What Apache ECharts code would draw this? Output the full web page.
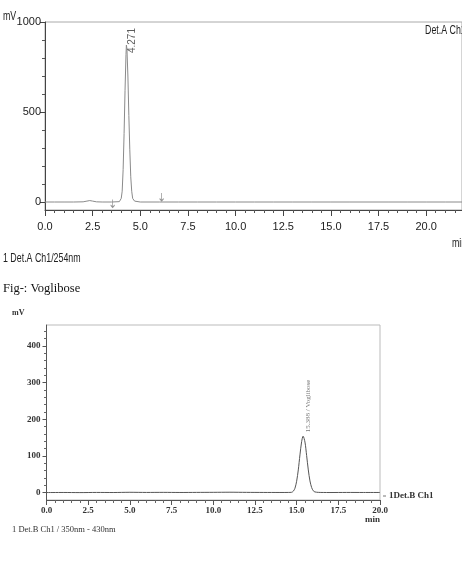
<!DOCTYPE html>
<html><head><meta charset="utf-8">
<script src="https://cdn.jsdelivr.net/npm/echarts@6/dist/echarts.min.js"></script>
<style>html,body{margin:0;padding:0;background:#fff}#c{width:462px;height:567px}</style>
</head><body><div id="c"></div>
<script>
// ---------- Chart 1 (Det.A Ch1 / 254nm) ----------
const time1 = [0, 0.5, 1.0, 1.5, 2.0, 2.2, 2.35, 2.5, 2.7, 3.0, 3.5, 3.9, 4.0, 4.05, 4.1, 4.15, 4.2, 4.25, 4.271, 4.3, 4.35, 4.4, 4.45, 4.5, 4.55, 4.6, 4.7, 4.8, 5.0, 6.0, 7.0, 8.0, 9.0, 10.0, 11.0, 12.0, 13.0, 14.0, 15.0, 16.0, 17.0, 18.0, 19.0, 20.0, 21.0, 22.0];
const signal1 = [0, 0, 0, 0, 1, 5, 8, 5, 1, 0, 0, 2, 20, 60, 180, 380, 620, 820, 872, 850, 700, 480, 290, 140, 60, 20, 5, 2, 0, 0, 0, 0, 0, 0, 0, 0, 0, 0, 0, 0, 0, 0, 0, 0, 0, 0];
const peak1Time = [4.271];
const peak1Height = [872];
const peak1Labels = ['4.271'];
const event1Time = [3.55, 6.12];
const event1Level = [-8, 28];
const yMajor1 = [0, 500, 1000];
const yMinor1 = [100, 200, 300, 400, 600, 700, 800, 900];

// ---------- Chart 2 (Det.B Ch1 / 350nm - 430nm) ----------
const time2 = [0, 1, 2, 3, 4, 5, 6, 7, 8, 9, 10, 11, 12, 13, 14, 14.5, 14.7, 14.8, 14.9, 15.0, 15.1, 15.2, 15.3, 15.388, 15.5, 15.6, 15.7, 15.8, 15.9, 16.0, 16.1, 16.3, 16.6, 17, 18, 19, 20];
const signal2 = [0.3, 0.5, 0.2, 0.6, 0.4, 1.0, 0.6, 0.8, 0.5, 0.7, 0.9, 1.2, 0.8, 0.6, 0.5, 0.6, 1, 4, 12, 31, 62, 103, 139, 154, 138, 101, 62, 32, 14, 5, 2, 0.8, 0.5, 0.4, 0.6, 0.5, 0.5];
const peak2Time = [15.388];
const peak2Height = [154];
const peak2Labels = ['15.388 / Voglibose'];
const yMajor2 = [0, 100, 200, 300, 400];
const yMinor2 = [20, 40, 60, 80, 120, 140, 160, 180, 220, 240, 260, 280, 320, 340, 360, 380, 420, 440];

const zip = (a, b) => a.map((x, i) => [x, b[i]]);
const SANS = '"Liberation Sans",Arial,sans-serif';
const SERIF = '"Liberation Serif","Times New Roman",serif';
const onStep = v => Math.abs(v / 2.5 - Math.round(v / 2.5)) < 1e-6 ? v.toFixed(1) : '';
const NARROW = 0.68;

const chart = echarts.init(document.getElementById('c'), null, {renderer: 'canvas'});
chart.setOption({
  animation: false,
  backgroundColor: '#fff',
  grid: [
    {left: 45, right: -2, top: 22, bottom: 357, show: true, borderColor: '#aaa', borderWidth: 1, backgroundColor: 'transparent'},
    {left: 46.5, right: 82, top: 325, bottom: 67, show: true, borderColor: '#bbb', borderWidth: 1, backgroundColor: 'transparent'}
  ],
  xAxis: [
    {type: 'value', gridIndex: 0, min: 0, max: 21.88, interval: 2.5,
     axisLine: {show: true, onZero: false, lineStyle: {color: '#444', width: 1}},
     axisTick: {show: true, length: 6, lineStyle: {color: '#444'}},
     minorTick: {show: true, splitNumber: 5, length: 3, lineStyle: {color: '#555'}},
     axisLabel: {formatter: onStep, margin: 11, fontSize: 11, color: '#222', fontFamily: SANS, showMaxLabel: false},
     splitLine: {show: false}},
    {type: 'value', gridIndex: 1, min: 0, max: 20, interval: 2.5,
     axisLine: {show: true, onZero: false, lineStyle: {color: '#555', width: 1}},
     axisTick: {show: true, length: 5, lineStyle: {color: '#555'}},
     minorTick: {show: true, splitNumber: 5, length: 3, lineStyle: {color: '#666'}},
     axisLabel: {formatter: onStep, margin: 6, fontSize: 9, fontWeight: 'bold', color: '#333', fontFamily: SERIF},
     splitLine: {show: false}}
  ],
  yAxis: [
    {type: 'value', gridIndex: 0, min: -44.4, max: 1000, position: 'left',
     axisLine: {show: true, onZero: false, lineStyle: {color: '#444'}},
     axisTick: {show: true, length: 5, customValues: yMajor1, lineStyle: {color: '#444'}},
     axisLabel: {customValues: yMajor1, formatter: v => String(v), margin: 4, fontSize: 11, color: '#222', fontFamily: SANS},
     splitLine: {show: false}},
    {type: 'value', gridIndex: 0, min: -44.4, max: 1000, position: 'left',
     axisLine: {show: false},
     axisTick: {show: true, length: 3, customValues: yMinor1, lineStyle: {color: '#555'}},
     axisLabel: {show: false}, splitLine: {show: false}},
    {type: 'value', gridIndex: 1, min: -20, max: 457, position: 'left',
     axisLine: {show: true, onZero: false, lineStyle: {color: '#555'}},
     axisTick: {show: true, length: 4, customValues: yMajor2, lineStyle: {color: '#555'}},
     axisLabel: {customValues: yMajor2, formatter: v => String(v), margin: 6, fontSize: 9, fontWeight: 'bold', color: '#333', fontFamily: SERIF},
     splitLine: {show: false}},
    {type: 'value', gridIndex: 1, min: -20, max: 457, position: 'left',
     axisLine: {show: false},
     axisTick: {show: true, length: 2.5, customValues: yMinor2, lineStyle: {color: '#666'}},
     axisLabel: {show: false}, splitLine: {show: false}}
  ],
  series: [
    {type: 'line', xAxisIndex: 0, yAxisIndex: 0, data: zip(time1, signal1), symbol: 'none',
     lineStyle: {color: '#8a8a8a', width: 1}, silent: true},
    {type: 'scatter', xAxisIndex: 0, yAxisIndex: 0, data: zip(event1Time, event1Level), clip: false,
     symbol: 'path://M2,0 L2,10 M0,7 L2,10 L4,7', symbolSize: [4, 8],
     itemStyle: {color: 'none', borderColor: '#777', borderWidth: 1}, silent: true},
    {type: 'scatter', xAxisIndex: 0, yAxisIndex: 0, data: zip(peak1Time, peak1Height), symbolSize: 0,
     label: {show: true, formatter: p => peak1Labels[p.dataIndex], position: [6, 8], rotate: 90,
             align: 'left', verticalAlign: 'middle', fontSize: 10, color: '#333', fontFamily: SANS}},
    {type: 'line', xAxisIndex: 1, yAxisIndex: 2, data: zip(time2, signal2), symbol: 'none', smooth: 0.3,
     lineStyle: {color: '#555', width: 1}, silent: true},
    {type: 'scatter', xAxisIndex: 1, yAxisIndex: 2, data: zip(peak2Time, peak2Height), symbolSize: 0,
     label: {show: true, formatter: p => peak2Labels[p.dataIndex], position: [5, -4], rotate: 90,
             align: 'left', verticalAlign: 'middle', fontSize: 7, color: '#555', fontFamily: SERIF}}
  ],
  graphic: [
    {type: 'text', x: 3, y: 16, scaleX: NARROW, style: {text: 'mV', fontSize: 13, fill: '#222', fontFamily: SANS, verticalAlign: 'middle'}},
    {type: 'text', x: 425, y: 30, scaleX: NARROW, style: {text: 'Det.A Ch1', fontSize: 13, fill: '#222', fontFamily: SANS, verticalAlign: 'middle'}},
    {type: 'text', x: 452, y: 243, scaleX: NARROW, style: {text: 'min', fontSize: 13, fill: '#222', fontFamily: SANS, verticalAlign: 'middle'}},
    {type: 'text', x: 3, y: 258, scaleX: NARROW, style: {text: '1 Det.A Ch1/254nm', fontSize: 13, fill: '#222', fontFamily: SANS, verticalAlign: 'middle'}},
    {type: 'text', x: 3, y: 289, style: {text: 'Fig-: Voglibose', fontSize: 12.5, fill: '#111', fontFamily: SERIF, verticalAlign: 'middle'}},
    {type: 'text', x: 12, y: 313, style: {text: 'mV', fontSize: 8, fontWeight: 'bold', fill: '#333', fontFamily: SERIF, verticalAlign: 'middle'}},
    {type: 'text', x: 380, y: 520, style: {text: 'min', fontSize: 9, fontWeight: 'bold', fill: '#333', fontFamily: SERIF, align: 'right', verticalAlign: 'middle'}},
    {type: 'line', shape: {x1: 383, y1: 496, x2: 386, y2: 496}, style: {stroke: '#777', lineWidth: 1}},
    {type: 'text', x: 389, y: 496, style: {text: '1Det.B Ch1', fontSize: 9, fontWeight: 'bold', fill: '#333', fontFamily: SERIF, verticalAlign: 'middle'}},
    {type: 'text', x: 12, y: 530, style: {text: '1 Det.B Ch1 / 350nm - 430nm', fontSize: 8.5, fill: '#333', fontFamily: SERIF, verticalAlign: 'middle'}}
  ]
});
</script></body></html>
